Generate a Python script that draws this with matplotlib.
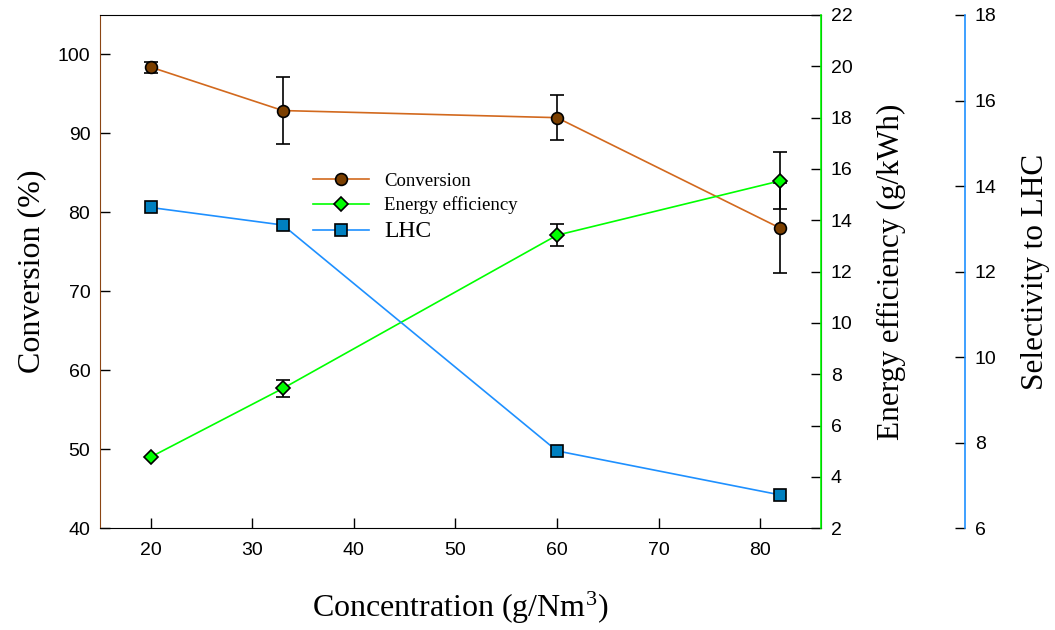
import numpy as np
import matplotlib
matplotlib.use("Agg")
import matplotlib.pyplot as plt

plt.rcParams['font.family'] = ['Liberation Sans', 'DejaVu Sans']
plt.rcParams['mathtext.fontset'] = 'custom'
plt.rcParams['mathtext.rm'] = 'Liberation Serif'
plt.rcParams['mathtext.it'] = 'Liberation Serif:italic'

# data
concentration = [20, 33, 60, 82]
conversion = [98.4, 92.9, 92.0, 78.0]
conversion_err = [0.7, 4.2, 2.85, 5.7]
energy_eff = [4.78, 7.45, 13.42, 15.54]
energy_eff_err = [0.0, 0.34, 0.42, 1.11]
lhc = [13.50, 13.09, 7.81, 6.78]

serif = 'Liberation Serif'
c_conv_line, c_conv_fill = '#D2691E', '#7B3F00'
c_ee = '#00FF00'
c_lhc_line, c_lhc_fill = '#1E90FF', '#0080C0'

fig = plt.figure(figsize=(10.55, 6.30), dpi=100)
ax = fig.add_axes([0.0948, 0.1614, 0.6834, 0.8148])
ax2 = ax.twinx()
ax3 = ax.twinx()
ax3.spines['right'].set_position(('axes', 1.2))

# conversion
ax.errorbar(concentration, conversion, yerr=conversion_err, fmt='none',
            ecolor='black', elinewidth=1.2, capsize=5, capthick=1.2, zorder=2)
l1, = ax.plot(concentration, conversion, color=c_conv_line, lw=1.2, marker='o',
              ms=8.5, mfc=c_conv_fill, mec='black', mew=1.2, zorder=3, label='Conversion')

# energy efficiency
ax2.errorbar(concentration, energy_eff, yerr=energy_eff_err, fmt='none',
             ecolor='black', elinewidth=1.2, capsize=5, capthick=1.2, zorder=2)
l2, = ax2.plot(concentration, energy_eff, color=c_ee, lw=1.2, marker='D',
               ms=7.5, mfc=c_ee, mec='black', mew=1.2, zorder=3, label='Energy efficiency')

# LHC selectivity
l3, = ax3.plot(concentration, lhc, color=c_lhc_line, lw=1.2, marker='s',
               ms=8, mfc=c_lhc_fill, mec='black', mew=1.2, zorder=3, label='LHC')

ax.set_xlim(15, 86)
ax.set_ylim(40, 105)
ax2.set_ylim(2, 22)
ax3.set_ylim(6, 18)
ax.set_xticks(np.arange(20, 81, 10))
ax.set_yticks(np.arange(40, 101, 10))
ax2.set_yticks(np.arange(2, 23, 2))
ax3.set_yticks(np.arange(6, 19, 2))

for a in (ax, ax2, ax3):
    a.tick_params(direction='in', length=7, width=1, labelsize=14, pad=7)
ax.tick_params(axis='x', pad=10)

ax.spines['left'].set_color('#8B4513')
ax2.spines['right'].set_color(c_ee)
ax3.spines['right'].set_color(c_lhc_line)
for a in (ax2, ax3):
    a.spines['left'].set_visible(False)
    a.spines['top'].set_visible(False)
    a.spines['bottom'].set_visible(False)
ax3.spines['right'].set_linewidth(1.2)
ax2.spines['right'].set_linewidth(1.2)

ax.set_xlabel(r'Concentration (g/Nm$^3$)', fontsize=23, fontfamily=serif)
ax.set_ylabel('Conversion (%)', fontsize=23, fontfamily=serif)
ax2.set_ylabel('Energy efficiency (g/kWh)', fontsize=22.5, fontfamily=serif)
ax3.set_ylabel('Selectivity to LHC', fontsize=22.5, fontfamily=serif)
ax.xaxis.set_label_coords(0.5, -0.12)
ax.yaxis.set_label_coords(-0.075, 0.5)
ax2.yaxis.set_label_coords(1.077, 0.5)
ax3.yaxis.set_label_coords(1.278, 0.5)

leg = ax3.legend(handles=[l1, l2, l3], loc='center left', bbox_to_anchor=(0.272, 0.625),
                 frameon=False, prop={'family': serif, 'size': 13.5}, numpoints=1,
                 handlelength=3.0, handletextpad=0.8, labelspacing=0.35)
leg.get_texts()[2].set_fontsize(17)

fig.savefig('out.png', dpi=100)
plt.close(fig)
